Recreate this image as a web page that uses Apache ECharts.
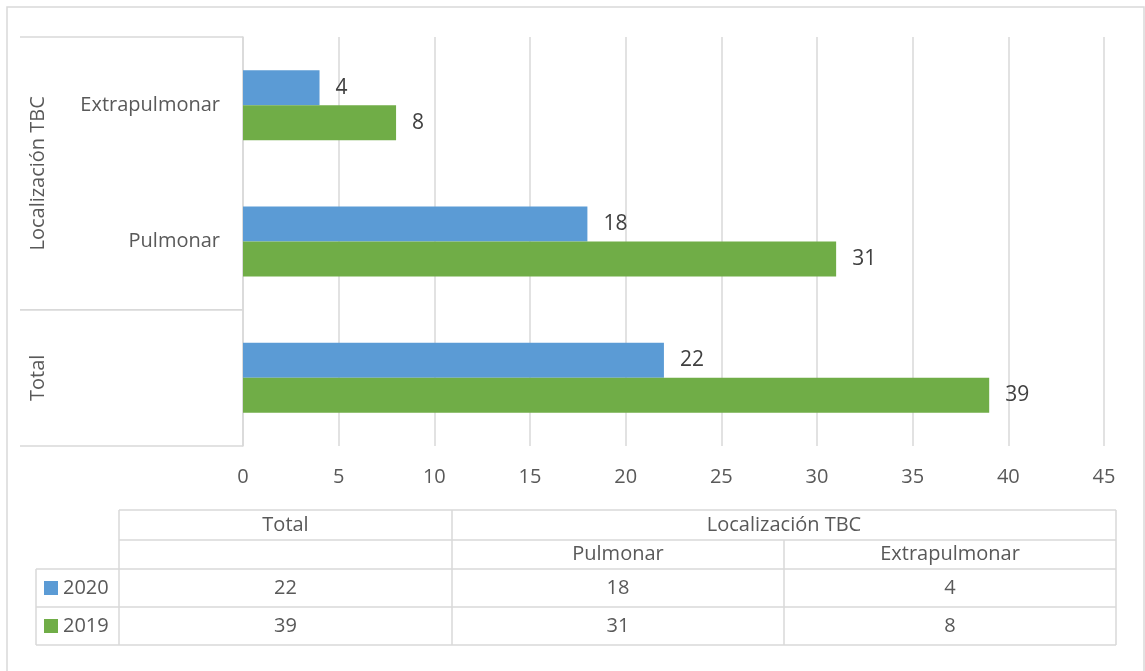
<!DOCTYPE html>
<html>
<head>
<meta charset="utf-8">
<script src="https://cdn.jsdelivr.net/npm/echarts@6/dist/echarts.min.js"></script>
<style>
html, body { margin: 0; padding: 0; background: #fff; }
#chart { width: 1145px; height: 671px; }
</style>
</head>
<body>
<div id="chart"></div>
<script>
// datos
const categories = ['Total', 'Pulmonar', 'Extrapulmonar'];
const groupNames = ['Total', 'Localización TBC'];
const groupOf = [0, 1, 1]; // grupo de cada categoría
const seriesNames = ['2020', '2019'];
const values2020 = [22, 18, 4];
const values2019 = [39, 31, 8];
const xMax = 45;
const xStep = 5;

const FONT = '"Open Sans", sans-serif';
const FS = 20;
const TXT = '#595959';
const LINE = '#d9d9d9';
const BLUE = '#5b9bd5';
const GREEN = '#70ad47';

const chart = echarts.init(document.getElementById('chart'));

const labelCfg = { show: true, position: 'right', distance: 16, color: '#404040', fontSize: 21, fontFamily: FONT };

const option = {
  animation: false,
  textStyle: { fontFamily: FONT },
  grid: { left: 243, right: 41, top: 37, bottom: 225 },
  xAxis: {
    type: 'value',
    min: 0,
    max: xMax,
    interval: xStep,
    axisLine: { show: false },
    axisTick: { show: false },
    splitLine: { lineStyle: { color: LINE, width: 1.5 } },
    axisLabel: { color: TXT, fontSize: FS, fontFamily: FONT, margin: 21 }
  },
  yAxis: {
    type: 'category',
    data: categories,
    axisLine: { show: true, lineStyle: { color: LINE, width: 1.5 } },
    axisTick: { show: false },
    axisLabel: {
      color: TXT, fontSize: FS, fontFamily: FONT, margin: 23,
      // la categoría "Total" no tiene subcategoría
      formatter: (v, i) => (groupOf[i] === 0 ? '' : v)
    }
  },
  series: [
    {
      name: seriesNames[0],
      type: 'bar',
      data: values2020,
      barWidth: 35,
      barGap: '0%',
      itemStyle: { color: BLUE },
      label: labelCfg
    },
    {
      name: seriesNames[1],
      type: 'bar',
      data: values2019,
      barWidth: 35,
      barGap: '0%',
      itemStyle: { color: GREEN },
      label: labelCfg
    }
  ]
};
chart.setOption(option);

// etiquetas de grupo, líneas separadoras y tabla de datos
function buildGraphics() {
  const els = [];
  const lineStyle = { stroke: LINE, lineWidth: 1.5 };

  // marco exterior
  els.push({ type: 'rect', shape: { x: 7, y: 7, width: 1137, height: 670 }, style: { fill: 'none', stroke: LINE, lineWidth: 1.5 }, silent: true });

  const y0 = chart.convertToPixel({ yAxisIndex: 0 }, categories[0]);
  const y1 = chart.convertToPixel({ yAxisIndex: 0 }, categories[1]);
  const band = Math.abs(y1 - y0);
  const axisX = chart.convertToPixel({ xAxisIndex: 0 }, 0);

  groupNames.forEach((g, gi) => {
    const idx = categories.map((c, i) => i).filter(i => groupOf[i] === gi);
    const ys = idx.map(i => chart.convertToPixel({ yAxisIndex: 0 }, categories[i]));
    const bottom = Math.max(...ys) + band / 2;
    const top = Math.min(...ys) - band / 2;
    [top, bottom].forEach(y => {
      els.push({ type: 'line', shape: { x1: 20, y1: y, x2: axisX, y2: y }, style: lineStyle, silent: true });
    });
    els.push({
      type: 'text', x: 38, y: (top + bottom) / 2, rotation: Math.PI / 2,
      style: { text: g, fill: TXT, font: FS + 'px ' + FONT, align: 'center', verticalAlign: 'middle' },
      silent: true
    });
  });

  // tabla
  const cx = [36, 119, 452, 784, 1116];
  const ry = [510, 540, 569, 607, 645];
  const L = (x1, y1, x2, y2) => els.push({ type: 'line', shape: { x1, y1, x2, y2 }, style: lineStyle, silent: true });
  const T = (text, x, y, align) => els.push({
    type: 'text', x, y,
    style: { text, fill: TXT, font: FS + 'px ' + FONT, align: align || 'center', verticalAlign: 'middle' },
    silent: true
  });
  // horizontales
  L(cx[1], ry[0], cx[4], ry[0]);
  L(cx[1], ry[1], cx[4], ry[1]);
  L(cx[0], ry[2], cx[4], ry[2]);
  L(cx[0], ry[3], cx[4], ry[3]);
  L(cx[0], ry[4], cx[4], ry[4]);
  // verticales
  L(cx[0], ry[2], cx[0], ry[4]);
  L(cx[1], ry[0], cx[1], ry[4]);
  L(cx[2], ry[0], cx[2], ry[4]);
  L(cx[3], ry[1], cx[3], ry[4]);
  L(cx[4], ry[0], cx[4], ry[4]);

  const mid = (a, b) => (a + b) / 2;
  T(groupNames[0], mid(cx[1], cx[2]), mid(ry[0], ry[1]));
  T(groupNames[1], mid(cx[2], cx[4]), mid(ry[0], ry[1]));
  T(categories[1], mid(cx[2], cx[3]), mid(ry[1], ry[2]));
  T(categories[2], mid(cx[3], cx[4]), mid(ry[1], ry[2]));

  const rows = [[seriesNames[0], values2020, BLUE], [seriesNames[1], values2019, GREEN]];
  rows.forEach((r, ri) => {
    const yc = mid(ry[2 + ri], ry[3 + ri]);
    els.push({ type: 'rect', shape: { x: 44, y: yc - 7, width: 14, height: 14 }, style: { fill: r[2] }, silent: true });
    T(r[0], 63, yc, 'left');
    r[1].forEach((v, ci) => T(String(v), mid(cx[1 + ci], cx[2 + ci]), yc));
  });

  chart.setOption({ graphic: { elements: els } });
}
buildGraphics();
</script>
</body>
</html>
